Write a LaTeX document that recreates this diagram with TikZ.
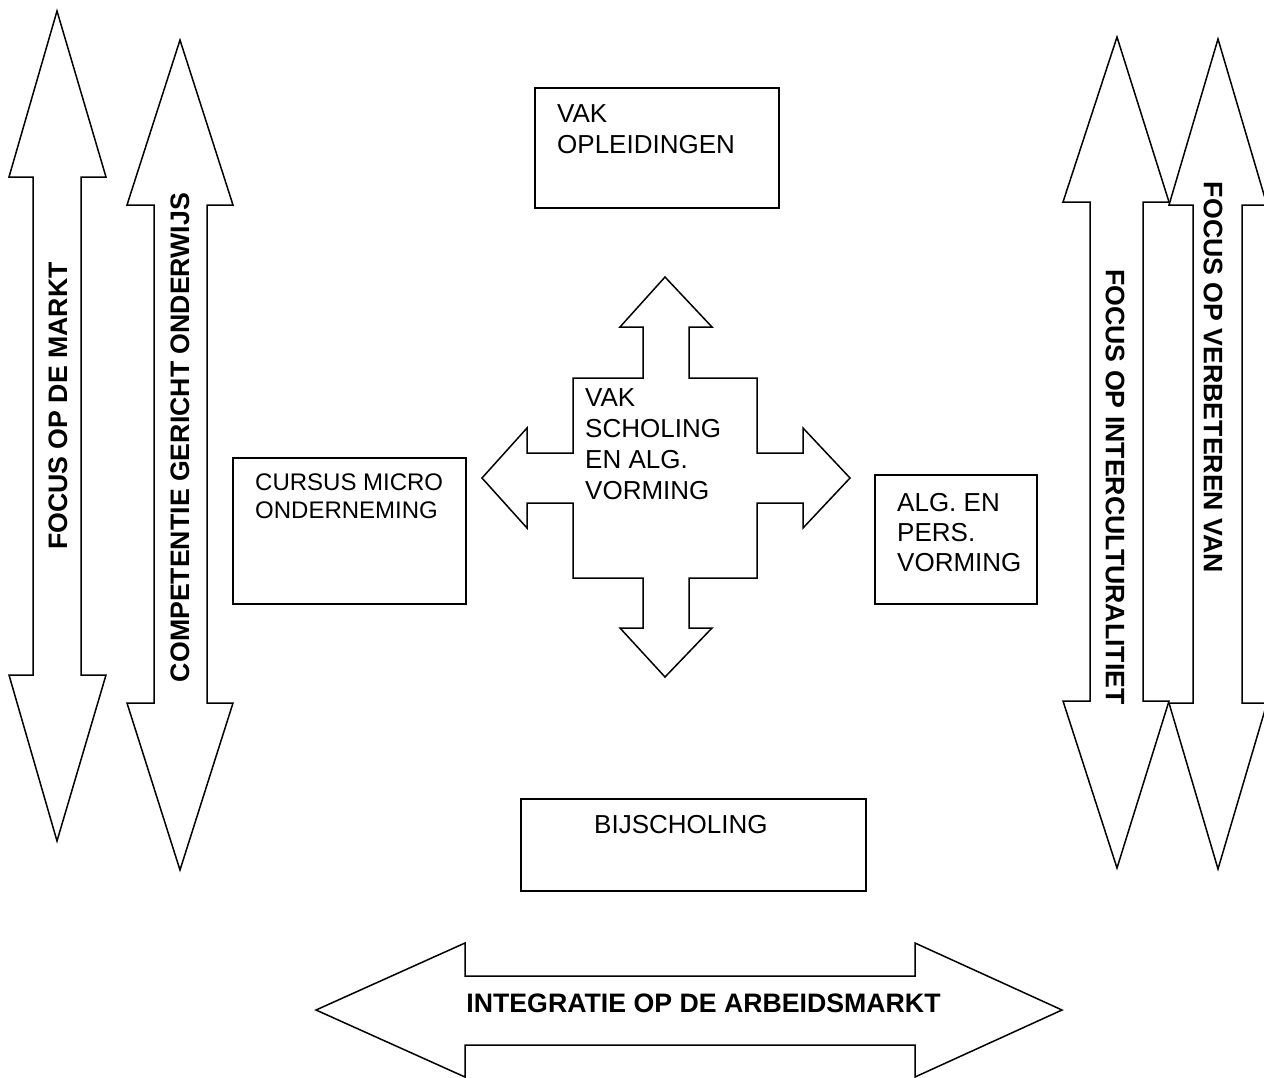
\documentclass[tikz,border=0pt]{standalone}
\usepackage{fontspec}
\setmainfont{Liberation Sans}
\begin{document}
\begin{tikzpicture}[x=1pt,y=-1pt,
  shp/.style={draw,line width=1.5pt,fill=white,line join=miter},
  box/.style={draw,line width=1.5pt,fill=white,inner sep=0pt,rectangle},
  txt/.style={inner sep=0pt,align=left,anchor=north west},
  vlbl/.style={inner sep=0pt,font=\bfseries\fontsize{26.7}{31}\selectfont}]
\useasboundingbox (0,0) rectangle (1264,1077);
% left arrows
\draw[shp] (57,11) -- (106,177) -- (81,177) -- (81,675) -- (106,675) -- (57,841) -- (9,675) -- (33,675) -- (33,177) -- (9,177) -- cycle;
\draw[shp] (180,40) -- (233,205) -- (207,205) -- (207,703) -- (233,703) -- (180,870) -- (127,703) -- (154,703) -- (154,205) -- (127,205) -- cycle;
% right arrows
\draw[shp] (1117,37) -- (1169,202) -- (1143,202) -- (1143,701) -- (1169,701) -- (1117,868) -- (1063,701) -- (1090,701) -- (1090,202) -- (1063,202) -- cycle;
\draw[shp] (1218,39) -- (1267,205) -- (1242,205) -- (1242,703) -- (1267,703) -- (1218,869) -- (1169,703) -- (1193,703) -- (1193,205) -- (1169,205) -- cycle;
% central cross
\draw[shp] (665,277) -- (712,327) -- (689,327) -- (689,378) -- (757,378) -- (757,453) -- (803,453) -- (803,428) -- (850,478) -- (803,528) -- (803,503) -- (757,503) -- (757,578) -- (689,578) -- (689,628) -- (712,628) -- (665,677) -- (620,628) -- (643,628) -- (643,578) -- (573,578) -- (573,503) -- (527,503) -- (527,528) -- (482,478) -- (527,428) -- (527,453) -- (573,453) -- (573,378) -- (643,378) -- (643,327) -- (620,327) -- cycle;
% bottom arrow
\draw[shp] (316,1010) -- (465,943) -- (465,976) -- (915,976) -- (915,943) -- (1062,1010) -- (915,1077) -- (915,1045) -- (465,1045) -- (465,1077) -- cycle;
% boxes
\node[box,minimum width=244pt,minimum height=120pt] (vakbox) at (657,148) {};
\node[box,minimum width=233pt,minimum height=146pt] (cursusbox) at (349.5,531) {};
\node[box,minimum width=162pt,minimum height=129pt] (algbox) at (956,539.5) {};
\node[box,minimum width=345pt,minimum height=92pt] (bijbox) at (693.5,845) {};
% texts
\node[txt,font=\fontsize{26}{31}\selectfont] (vaktxt) at (557,104.4) {VAK\\OPLEIDINGEN};
\node[txt,font=\fontsize{24}{27.5}\selectfont] (cursustxt) at (255,473.6) {CURSUS MICRO\\ONDERNEMING};
\node[txt,font=\fontsize{26}{30}\selectfont] (algtxt) at (897,493) {ALG. EN\\PERS.\\VORMING};
\node[txt,font=\fontsize{26}{31}\selectfont] (centtxt) at (585,388.4) {VAK\\SCHOLING\\EN ALG.\\VORMING};
\node[inner sep=0pt,anchor=base west,font=\fontsize{26}{31}\selectfont] (bijtxt) at (594,833) {BIJSCHOLING};
% vertical labels
\node[vlbl,rotate=90] (markt) at (58,406) {FOCUS OP DE MARKT};
\node[vlbl,rotate=90] (comp) at (180,437.5) {COMPETENTIE GERICHT ONDERWIJS};
\node[vlbl,rotate=-90] (inter) at (1115,487) {FOCUS OP INTERCULTURALITIET};
\node[vlbl,rotate=-90] (verb) at (1213,377.5) {FOCUS OP VERBETEREN VAN};
\node[vlbl,anchor=base] (integ) at (703.5,1012) {INTEGRATIE OP DE ARBEIDSMARKT};
\end{tikzpicture}
\end{document}
